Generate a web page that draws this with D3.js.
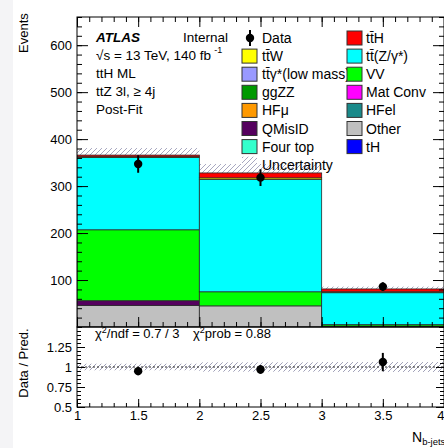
<!DOCTYPE html>
<html>
<head>
<meta charset="utf-8">
<script src="https://cdn.jsdelivr.net/npm/d3@7"></script>
<style>
  html, body { margin: 0; padding: 0; background: #fff; }
  svg { display: block; font-family: "Liberation Sans", Arial, Helvetica, sans-serif; }
  .axis text { font-size: 13px; fill: #000; font-family: "Liberation Sans", Arial, sans-serif; }
  .axis line { stroke: #000; stroke-width: 1; }
</style>
</head>
<body>
<svg id="chart" width="444" height="448"></svg>
<script>
// ---- data -------------------------------------------------------------
const binEdges = [1, 2, 3, 4];
const binCenters = [1.5, 2.5, 3.5];

// post-fit yields per b-jet bin, stacked bottom to top
const other  = [46, 45, 2];
const qmisid = [10, 0, 0];
const vv     = [151, 30, 3];
const ttz    = [154, 239, 68];
const ttw    = [1.5, 3.5, 2];
const tth    = [3.5, 10.5, 6];

const dataYield = [347, 318, 86];
const totalUnc  = [15, 19, 5];

const stackOrder = [
  { key: "Other",  values: other,  color: "#c0c0c0" },
  { key: "QMisID", values: qmisid, color: "#55005e" },
  { key: "VV",     values: vv,     color: "#00ff00" },
  { key: "ttZ",    values: ttz,    color: "#00ffff" },
  { key: "ttW",    values: ttw,    color: "#ffff00" },
  { key: "ttH",    values: tth,    color: "#ff0000" }
];

// legend entries (two columns)
const legendCol1 = [
  { label: "Data", type: "data" },
  { label: "tt\u0304W", color: "#ffff00" },
  { label: "tt\u0304\u03b3*(low mass)", color: "#9999ff" },
  { label: "ggZZ", color: "#009900" },
  { label: "HF\u03bc", color: "#ff9900" },
  { label: "QMisID", color: "#55005e" },
  { label: "Four top", color: "#33ffcc" },
  { label: "Uncertainty", type: "unc" }
];
const legendCol2 = [
  { label: "tt\u0304H", color: "#ff0000" },
  { label: "tt\u0304(Z/\u03b3*)", color: "#00ffff" },
  { label: "VV", color: "#00ff00" },
  { label: "Mat Conv", color: "#ff00ff" },
  { label: "HFel", color: "#1a8a8a" },
  { label: "Other", color: "#c0c0c0" },
  { label: "tH", color: "#0000ff" }
];

const mainTicks  = [100, 200, 300, 400, 500, 600];
const ratioTicks = [0.5, 0.75, 1, 1.25];
const xTicks     = [1, 1.5, 2, 2.5, 3, 3.5, 4];

// ---- layout -----------------------------------------------------------
const svg = d3.select("#chart");
const X0 = 77, X1 = 444;
const MAIN_TOP = 17, MAIN_BOT = 327, RATIO_BOT = 407;

const x  = d3.scaleLinear().domain([1, 4]).range([X0, X1]);
const y  = d3.scaleLinear().domain([0, 660]).range([MAIN_BOT, MAIN_TOP]);
const yr = d3.scaleLinear().domain([0.5, 1.5]).range([RATIO_BOT, MAIN_BOT]);

svg.append("rect").attr("x", 0).attr("y", 0).attr("width", 13).attr("height", 448).attr("fill", "#f4f4f6");

const defs = svg.append("defs");
function hatch(id, color) {
  const p = defs.append("pattern").attr("id", id).attr("patternUnits", "userSpaceOnUse")
    .attr("width", 5).attr("height", 5);
  p.append("path").attr("d", "M-1,1 l2,-2 M0,5 l5,-5 M4,6 l2,-2")
    .attr("stroke", color).attr("stroke-width", 1);
}
hatch("hatchMain", "#a8a8c0");
hatch("hatchRatio", "#a0a0b8");

const clipMain = defs.append("clipPath").attr("id", "clipMain");
clipMain.append("rect").attr("x", X0).attr("y", MAIN_TOP).attr("width", X1 - X0).attr("height", MAIN_BOT - MAIN_TOP);

// ---- main panel ------------------------------------------------------
const totals = binCenters.map((_, i) => d3.sum(stackOrder, s => s.values[i]));
const plot = svg.append("g").attr("clip-path", "url(#clipMain)");

// uncertainty band behind the stack
plot.selectAll("rect.unc").data(binCenters).join("rect").attr("class", "unc")
  .attr("x", (d, i) => x(binEdges[i]))
  .attr("width", (d, i) => x(binEdges[i + 1]) - x(binEdges[i]))
  .attr("y", (d, i) => y(totals[i] + totalUnc[i]))
  .attr("height", (d, i) => y(totals[i] - totalUnc[i]) - y(totals[i] + totalUnc[i]))
  .attr("fill", "url(#hatchMain)");

const stacked = d3.stack().keys(stackOrder.map(s => s.key))
  .value((i, key) => stackOrder.find(s => s.key === key).values[i])(d3.range(binCenters.length));

stacked.forEach((layer, li) => {
  const col = stackOrder[li].color;
  plot.selectAll(null).data(layer.filter((d, i) => stackOrder[li].values[i] > 0).map(d => ({ d, i: d.data })))
    .join("rect")
    .attr("x", o => x(binEdges[o.i]))
    .attr("width", o => x(binEdges[o.i + 1]) - x(binEdges[o.i]))
    .attr("y", o => y(o.d[1]))
    .attr("height", o => y(o.d[0]) - y(o.d[1]))
    .attr("fill", col)
    .attr("stroke", "#2a2a2a").attr("stroke-width", 0.8);
});

// data points
const dg = svg.append("g");
dataYield.forEach((v, i) => {
  const e = Math.sqrt(v);
  dg.append("line").attr("x1", x(binCenters[i])).attr("x2", x(binCenters[i]))
    .attr("y1", y(v + e)).attr("y2", y(v - e)).attr("stroke", "#000").attr("stroke-width", 2);
  dg.append("circle").attr("cx", x(binCenters[i])).attr("cy", y(v)).attr("r", 4.2).attr("fill", "#000");
});

// ---- ratio panel -----------------------------------------------------
const rg = svg.append("g");
rg.selectAll("rect.runc").data(binCenters).join("rect")
  .attr("x", (d, i) => x(binEdges[i]))
  .attr("width", (d, i) => x(binEdges[i + 1]) - x(binEdges[i]))
  .attr("y", (d, i) => yr(1 + totalUnc[i] / totals[i]))
  .attr("height", (d, i) => yr(1 - totalUnc[i] / totals[i]) - yr(1 + totalUnc[i] / totals[i]))
  .attr("fill", "url(#hatchRatio)");
rg.append("line").attr("x1", X0).attr("x2", X1).attr("y1", yr(1)).attr("y2", yr(1))
  .attr("stroke", "#222").attr("stroke-width", 1).attr("stroke-dasharray", "2,2");

dataYield.forEach((v, i) => {
  const r = v / totals[i], e = Math.sqrt(v) / totals[i];
  rg.append("line").attr("x1", x(binCenters[i])).attr("x2", x(binCenters[i]))
    .attr("y1", yr(r + e)).attr("y2", yr(r - e)).attr("stroke", "#000").attr("stroke-width", 2);
  rg.append("circle").attr("cx", x(binCenters[i])).attr("cy", yr(r)).attr("r", 4.2).attr("fill", "#000");
});

rg.append("text").attr("x", 95).attr("y", 338).attr("font-size", 13)
  .html('\u03c7<tspan dy="-5" font-size="9">2</tspan><tspan dy="5">/ndf = 0.7 / 3</tspan>');
rg.append("text").attr("x", 193).attr("y", 338).attr("font-size", 13)
  .html('\u03c7<tspan dy="-5" font-size="9">2</tspan><tspan dy="5">prob = 0.88</tspan>');

// ---- axes ------------------------------------------------------------
function addAxis(axis, tx, ty) {
  const g = svg.append("g").attr("class", "axis").attr("transform", `translate(${tx},${ty})`).call(axis);
  g.select(".domain").remove();
  return g;
}
const none = () => "";
const xMinor = d3.range(10, 41).map(v => v / 10);
const xMajor = d3.range(2, 9).map(v => v / 2);

// main panel
addAxis(d3.axisLeft(y).tickValues(mainTicks).tickSize(-11).tickPadding(5).tickFormat(d3.format("d")), X0, 0);
addAxis(d3.axisLeft(y).tickValues(d3.range(0, 661, 20)).tickSize(-5).tickFormat(none), X0, 0);
addAxis(d3.axisRight(y).tickValues(mainTicks).tickSize(-11).tickFormat(none), X1, 0);
addAxis(d3.axisRight(y).tickValues(d3.range(0, 661, 20)).tickSize(-5).tickFormat(none), X1, 0);
addAxis(d3.axisTop(x).tickValues(xMajor).tickSize(-10).tickFormat(none), 0, MAIN_TOP);
addAxis(d3.axisTop(x).tickValues(xMinor).tickSize(-5).tickFormat(none), 0, MAIN_TOP);
addAxis(d3.axisBottom(x).tickValues(xMajor).tickSize(-10).tickFormat(none), 0, MAIN_BOT);
addAxis(d3.axisBottom(x).tickValues(xMinor).tickSize(-5).tickFormat(none), 0, MAIN_BOT);

// ratio panel
const rMinor = d3.range(10, 31).map(v => v / 20);
addAxis(d3.axisLeft(yr).tickValues(ratioTicks).tickSize(-8).tickPadding(5).tickFormat(d => d3.format("~g")(d)), X0, 0);
addAxis(d3.axisLeft(yr).tickValues(rMinor).tickSize(-4).tickFormat(none), X0, 0);
addAxis(d3.axisRight(yr).tickValues(ratioTicks).tickSize(-8).tickFormat(none), X1, 0);
addAxis(d3.axisRight(yr).tickValues(rMinor).tickSize(-4).tickFormat(none), X1, 0);
const xLab = addAxis(d3.axisBottom(x).tickValues(xTicks).tickSize(-8).tickPadding(4).tickFormat(d3.format("~g")), 0, RATIO_BOT);
// last label sits on the right frame edge: keep it inside the page
xLab.selectAll(".tick text").filter(d => d === 4).attr("text-anchor", "end").attr("dx", 0);
addAxis(d3.axisBottom(x).tickValues(xMinor).tickSize(-4).tickFormat(none), 0, RATIO_BOT);

// frames
svg.append("rect").attr("x", X0).attr("y", MAIN_TOP).attr("width", X1 - X0).attr("height", MAIN_BOT - MAIN_TOP)
  .attr("fill", "none").attr("stroke", "#000").attr("stroke-width", 1);
svg.append("rect").attr("x", X0).attr("y", MAIN_BOT).attr("width", X1 - X0).attr("height", RATIO_BOT - MAIN_BOT)
  .attr("fill", "none").attr("stroke", "#000").attr("stroke-width", 1);

// axis titles
svg.append("text").attr("transform", "translate(28,33) rotate(-90)").attr("text-anchor", "middle")
  .attr("font-size", 13).text("Events");
svg.append("text").attr("transform", "translate(28,363) rotate(-90)").attr("text-anchor", "middle")
  .attr("font-size", 13).text("Data / Pred.");
svg.append("text").attr("x", 412).attr("y", 442).attr("font-size", 14)
  .html('N<tspan font-size="9.5" dy="3">b-jets</tspan>');

// ---- labels ------------------------------------------------------------
const lab = svg.append("g").attr("font-size", 13.5);
lab.append("text").attr("x", 96).attr("y", 42).attr("font-weight", "bold").attr("font-style", "italic").text("ATLAS");
lab.append("text").attr("x", 183).attr("y", 42).text("Internal");
lab.append("text").attr("x", 96).attr("y", 60).html('\u221as = 13 TeV, 140 fb<tspan dx="3" dy="-7" font-size="9">-1</tspan>');
lab.append("text").attr("x", 96).attr("y", 78).text("ttH ML");
lab.append("text").attr("x", 96).attr("y", 96).text("ttZ 3l, \u2265 4j");
lab.append("text").attr("x", 96).attr("y", 114).text("Post-Fit");

// ---- legend ------------------------------------------------------------
const leg = svg.append("g").attr("font-size", 14);
const rowY = i => 43 + i * 18.1;
function legendColumn(entries, bx, tx) {
  entries.forEach((e, i) => {
    const by = rowY(i);
    leg.append("text").attr("x", tx).attr("y", by).text(e.label);
  });
  entries.forEach((e, i) => {
    const by = rowY(i);
    if (e.type === "data") {
      leg.append("line").attr("x1", bx + 8).attr("x2", bx + 8).attr("y1", by - 13).attr("y2", by + 3)
        .attr("stroke", "#000").attr("stroke-width", 2);
      leg.append("circle").attr("cx", bx + 8).attr("cy", by - 5).attr("r", 4.2).attr("fill", "#000");
    } else if (e.type === "unc") {
      leg.append("rect").attr("x", bx).attr("y", by - 13).attr("width", 15).attr("height", 14)
        .attr("fill", "url(#hatchMain)");
    } else {
      leg.append("rect").attr("x", bx).attr("y", by - 12).attr("width", 15).attr("height", 14)
        .attr("fill", e.color).attr("stroke", "#333").attr("stroke-width", 1);
    }
  });
}
legendColumn(legendCol1, 242, 262);
legendColumn(legendCol2, 347, 366);
</script>
</body>
</html>
